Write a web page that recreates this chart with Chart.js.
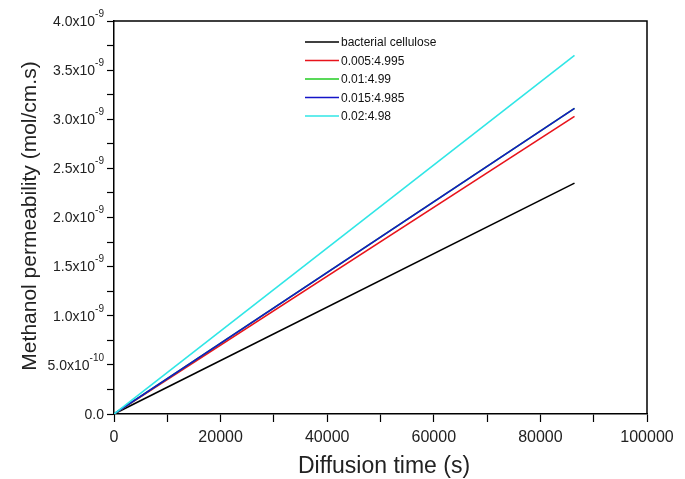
<!DOCTYPE html>
<html>
<head>
<meta charset="utf-8">
<script src="https://cdn.jsdelivr.net/npm/chart.js@4.4.1/dist/chart.umd.min.js"></script>
<style>
  html, body { margin: 0; padding: 0; background: #fff; }
  #wrap { width: 685px; height: 479px; }
</style>
</head>
<body>
<div id="wrap"><canvas id="chart"></canvas></div>
<script>
// Diffusion time (s)
const diffusionTime = [0, 86400];

// Methanol permeability (mol/cm.s) for each membrane
const seriesLabels = ['bacterial cellulose', '0.005:4.995', '0.01:4.99', '0.015:4.985', '0.02:4.98'];
const bacterialCellulose = [0, 2.35e-9];
const ratio0005 = [0, 3.03e-9];
const ratio001 = [0, 3.11e-9];
const ratio0015 = [0, 3.11e-9];
const ratio002 = [0, 3.65e-9];
const seriesColors = ['#000000', '#e8131b', '#22cc22', '#1414c8', '#30e6e6'];

// Tick labels
const xTickLabels = ['0', '20000', '40000', '60000', '80000', '100000'];
const yTickMantissa = ['0.0', '5.0x10', '1.0x10', '1.5x10', '2.0x10', '2.5x10', '3.0x10', '3.5x10', '4.0x10'];
const yTickExponent = ['', '-10', '-9', '-9', '-9', '-9', '-9', '-9', '-9'];

const xTitle = 'Diffusion time (s)';
const yTitle = 'Methanol permeability (mol/cm.s)';

const FONT = 'Arial, "Liberation Sans", sans-serif';

const seriesValues = [bacterialCellulose, ratio0005, ratio001, ratio0015, ratio002];

// y tick labels with superscripts, axis titles, frame and inner legend
const extras = {
  id: 'extras',
  afterDraw(chart) {
    const { ctx, chartArea: a } = chart;
    const ys = chart.scales.y;
    ctx.save();

    // frame on top and right
    ctx.strokeStyle = '#000';
    ctx.lineWidth = 1.5;
    ctx.beginPath();
    ctx.moveTo(a.left, a.top);
    ctx.lineTo(a.right, a.top);
    ctx.lineTo(a.right, a.bottom);
    ctx.stroke();

    // y tick labels
    ctx.fillStyle = '#222';
    ctx.textBaseline = 'middle';
    yTickMantissa.forEach((m, i) => {
      const y = ys.getPixelForValue(i * 0.5e-9);
      const exp = yTickExponent[i];
      const xr = a.left - 10;
      ctx.font = '10px ' + FONT;
      const ew = exp ? ctx.measureText(exp).width : 0;
      if (exp) {
        ctx.textAlign = 'right';
        ctx.fillText(exp, xr, y - 7);
      }
      ctx.font = '14px ' + FONT;
      ctx.textAlign = 'right';
      ctx.fillText(m, xr - ew, y + 1);
    });

    // axis titles
    ctx.fillStyle = '#222';
    ctx.textAlign = 'center';
    ctx.textBaseline = 'middle';
    ctx.font = '23px ' + FONT;
    ctx.fillText(xTitle, 384, 467);
    ctx.save();
    ctx.translate(30, 216);
    ctx.rotate(-Math.PI / 2);
    ctx.font = '21px ' + FONT;
    ctx.fillText(yTitle, 0, 0);
    ctx.restore();

    // legend
    const lx = 305, ly = 42, dy = 18.5;
    chart.data.datasets.forEach((ds, i) => {
      const y = ly + i * dy;
      ctx.strokeStyle = ds.borderColor;
      ctx.lineWidth = 1.5;
      ctx.beginPath();
      ctx.moveTo(lx, y);
      ctx.lineTo(lx + 34, y);
      ctx.stroke();
      ctx.fillStyle = '#111';
      ctx.font = '12px ' + FONT;
      ctx.textAlign = 'left';
      ctx.fillText(ds.label, lx + 36, y + 1);
    });
    ctx.restore();
  }
};

new Chart(document.getElementById('chart'), {
  type: 'line',
  data: {
    datasets: seriesLabels.map((label, i) => ({
      label,
      data: diffusionTime.map((t, j) => ({ x: t, y: seriesValues[i][j] })),
      borderColor: seriesColors[i],
      backgroundColor: seriesColors[i],
      borderWidth: 1.6,
      pointRadius: 0,
      fill: false,
      tension: 0,
      order: seriesLabels.length - i
    }))
  },
  options: {
    responsive: true,
    maintainAspectRatio: false,
    animation: false,
    layout: { padding: { top: 21, right: 38, left: 0, bottom: 0 } },
    plugins: {
      legend: { display: false },
      tooltip: { enabled: false }
    },
    scales: {
      x: {
        type: 'linear',
        min: 0,
        max: 100000,
        afterFit: s => { s.height = 65; },
        border: { color: '#000', width: 1.5 },
        grid: { drawOnChartArea: false, tickLength: 8, color: '#000', tickWidth: 1.2 },
        ticks: {
          stepSize: 10000,
          autoSkip: false,
          maxRotation: 0,
          padding: 6,
          color: '#222',
          font: { family: FONT, size: 16 },
          callback: v => (v % 20000 === 0 ? xTickLabels[v / 20000] : '')
        }
      },
      y: {
        type: 'linear',
        min: 0,
        max: 4e-9,
        afterFit: s => { s.width = 114; },
        border: { color: '#000', width: 1.5 },
        grid: { drawOnChartArea: false, tickLength: 7, color: '#000', tickWidth: 1.2 },
        ticks: {
          stepSize: 2.5e-10,
          display: false
        }
      }
    }
  },
  plugins: [extras]
});
</script>
</body>
</html>
